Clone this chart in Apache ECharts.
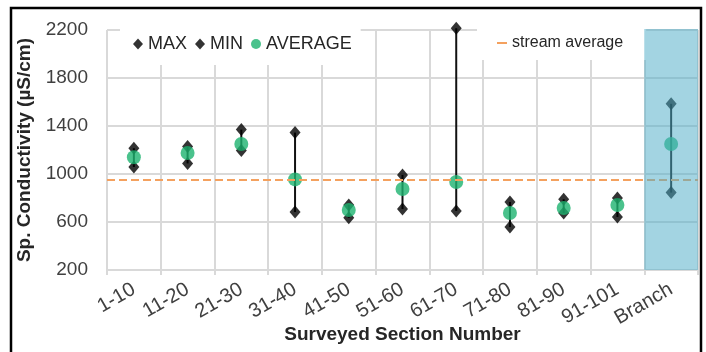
<!DOCTYPE html>
<html>
<head>
<meta charset="utf-8">
<script src="https://cdn.jsdelivr.net/npm/echarts@6/dist/echarts.min.js"></script>
<style>
html,body{margin:0;padding:0;background:#fff;}
#chart{width:706px;height:352px;}
</style>
</head>
<body>
<div id="chart"></div>
<script>
const categories = ['1-10','11-20','21-30','31-40','41-50','51-60','61-70','71-80','81-90','91-101','Branch'];
const maxValues = [1215, 1230, 1370, 1345, 742, 992, 2215, 767, 790, 800, 1585];
const minValues = [1058, 1088, 1195, 683, 635, 708, 692, 558, 675, 642, 845];
const avgValues = [1140, 1175, 1250, 955, 700, 875, 933, 675, 717, 742, 1250];
const streamAverage = 950;
const yTicks = {min: 200, max: 2200, interval: 400};
const shadedCategory = 'Branch';

const chart = echarts.init(document.getElementById('chart'));
const font = 'Liberation Sans, Arial, sans-serif';
const gridColor = '#d9d9d9';
const textColor = '#404040';

chart.setOption({
  animation: false,
  backgroundColor: '#fff',
  textStyle: {fontFamily: font},
  grid: {left: 107, right: 8, top: 30, bottom: 82, containLabel: false, outerBoundsMode: 'none'},
  graphic: [{
    type: 'rect', z: 100, silent: true,
    shape: {x: 11, y: 8, width: 690, height: 400},
    style: {fill: 'none', stroke: '#000', lineWidth: 2.5}
  }],
  legend: [{
    data: [
      {name: 'MAX', icon: 'diamond'},
      {name: 'MIN', icon: 'diamond'},
      {name: 'AVERAGE', icon: 'circle'}
    ],
    left: 120, top: 26,
    padding: [9, 9, 12, 13],
    backgroundColor: '#fff',
    itemWidth: 10, itemHeight: 11, itemGap: 8,
    textStyle: {fontSize: 18, color: '#262626', fontFamily: font},
    z: 4
  }, {
    data: [{name: 'stream average', icon: 'rect'}],
    left: 477, top: 23,
    padding: [12, 23, 9, 20],
    backgroundColor: '#fff',
    itemWidth: 10, itemHeight: 2,
    textStyle: {fontSize: 16, color: '#262626', fontFamily: font},
    z: 4
  }],
  xAxis: {
    type: 'category',
    data: categories,
    boundaryGap: true,
    axisLine: {show: true, lineStyle: {color: gridColor, width: 2}},
    axisTick: {show: true, length: 5, lineStyle: {color: gridColor, width: 2}},
    splitLine: {show: true, lineStyle: {color: gridColor, width: 2}},
    axisLabel: {rotate: 30, fontSize: 20, color: textColor, margin: 18, interval: 0},
    name: 'Surveyed Section Number',
    nameLocation: 'middle',
    nameGap: 55,
    nameMoveOverlap: false,
    nameTextStyle: {fontSize: 19, fontWeight: 'bold', color: '#262626'}
  },
  yAxis: {
    type: 'value',
    min: yTicks.min, max: yTicks.max, interval: yTicks.interval,
    axisLine: {show: false},
    axisTick: {show: false},
    splitLine: {show: true, lineStyle: {color: gridColor, width: 2}},
    axisLabel: {fontSize: 19, color: textColor, margin: 19, formatter: v => String(v)},
    name: 'Sp. Conductivity (µS/cm)',
    nameLocation: 'middle',
    nameGap: 73,
    nameMoveOverlap: false,
    nameTextStyle: {fontSize: 19, fontWeight: 'bold', color: '#262626'}
  },
  series: [
    {
      name: 'range',
      type: 'custom',
      z: 1,
      silent: true,
      data: categories.map((c, i) => [i, minValues[i], maxValues[i]]),
      renderItem: function (params, api) {
        const p1 = api.coord([api.value(0), api.value(1)]);
        const p2 = api.coord([api.value(0), api.value(2)]);
        return {
          type: 'line',
          shape: {x1: p1[0], y1: p1[1], x2: p2[0], y2: p2[1]},
          style: {stroke: '#111', lineWidth: 2}
        };
      }
    },
    {
      name: 'MAX', type: 'scatter', symbol: 'diamond', symbolSize: [11, 13],
      itemStyle: {color: '#000'}, z: 2, clip: false,
      data: maxValues
    },
    {
      name: 'MIN', type: 'scatter', symbol: 'diamond', symbolSize: [11, 13],
      itemStyle: {color: '#000'}, z: 2, clip: false,
      data: minValues
    },
    {
      name: 'AVERAGE', type: 'scatter', symbol: 'circle', symbolSize: 14,
      itemStyle: {color: '#1DB36F'}, z: 3, clip: false,
      data: avgValues
    },
    {
      name: 'stream average', type: 'line',
      data: categories.map(() => streamAverage),
      symbol: 'none',
      itemStyle: {color: '#F4A15F'},
      lineStyle: {color: '#F4A15F', type: [8, 4], width: 2, opacity: 0},
      z: 2,
      markLine: {
        silent: true, symbol: 'none',
        label: {show: false},
        lineStyle: {color: '#F4A15F', type: [8, 4], width: 2, opacity: 1},
        data: [{yAxis: streamAverage}]
      }
    },
    {
      name: 'shade', type: 'custom', z: 6, silent: true,
      data: [[categories.indexOf(shadedCategory), yTicks.min, yTicks.max]],
      renderItem: function (params, api) {
        const top = api.coord([api.value(0), api.value(2)]);
        const bottom = api.coord([api.value(0), api.value(1)]);
        const bw = api.size([1, 0])[0];
        return {
          type: 'rect',
          shape: {x: top[0] - bw / 2, y: top[1] - 1, width: bw, height: bottom[1] - top[1] + 1},
          style: {fill: 'rgba(78,172,200,0.52)'}
        };
      }
    }
  ]
});
</script>
</body>
</html>
